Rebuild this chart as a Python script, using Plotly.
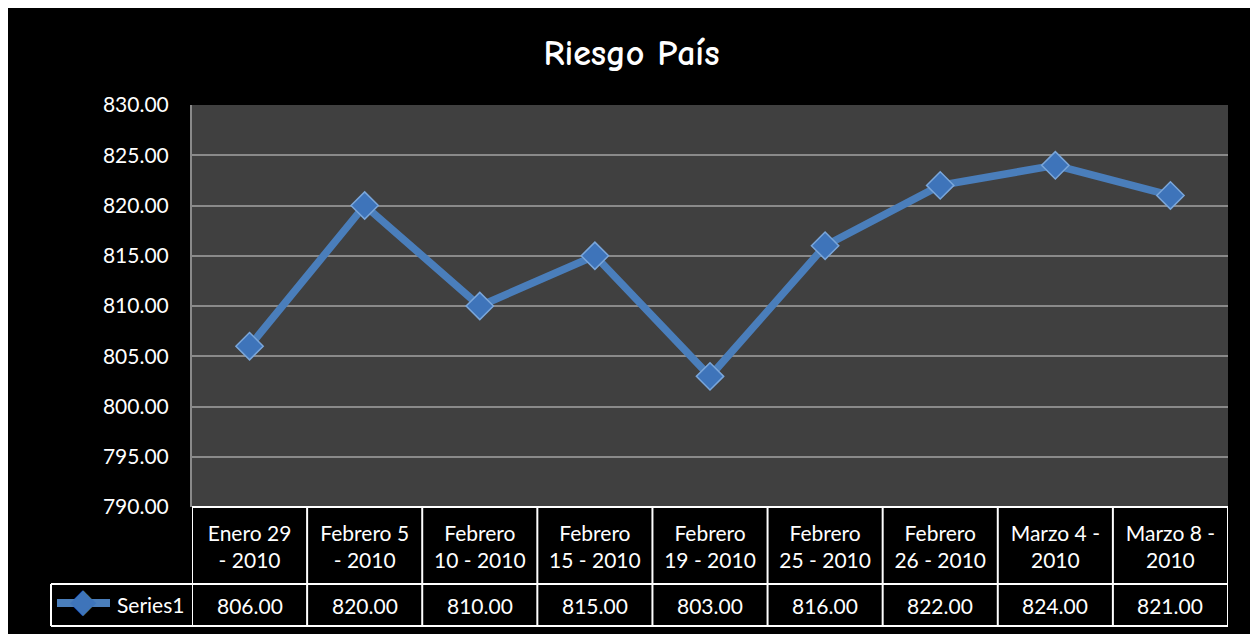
import plotly.graph_objects as go

categories = ["Enero 29<br>- 2010", "Febrero 5<br>- 2010", "Febrero<br>10 - 2010", "Febrero<br>15 - 2010",
              "Febrero<br>19 - 2010", "Febrero<br>25 - 2010", "Febrero<br>26 - 2010", "Marzo 4 -<br>2010",
              "Marzo 8 -<br>2010"]
values = [806, 820, 810, 815, 803, 816, 822, 824, 821]
series_name = "Series1"
title_text = "Riesgo País"

W, H = 1250, 626
L, R, T, B = 184, 1220, 97, 499
pw, ph = R - L, B - T
BLUE = "#4A7EBB"

def px_x(p):
    return (p - L) / pw

def px_y(p):
    return (B - p) / ph

fig = go.Figure()
fig.add_trace(go.Scatter(
    x=list(range(len(categories))), y=values, mode="lines+markers", name=series_name,
    line=dict(color=BLUE, width=7.5),
    marker=dict(symbol="diamond", size=21, color="#3E74BA", line=dict(color="#7AA6DA", width=1.5)),
    showlegend=False,
))

shapes = []
tl = dict(color="white", width=2)
# table horizontal lines
shapes.append(dict(type="line", xref="paper", yref="paper", x0=0, x1=1, y0=0, y1=0, line=tl, layer="above"))
for py in (576, 618):
    shapes.append(dict(type="line", xref="paper", yref="paper", x0=px_x(43), x1=1, y0=px_y(py), y1=px_y(py),
                       line=tl, layer="above"))
shapes.append(dict(type="line", xref="paper", yref="paper", x0=px_x(43), x1=px_x(43), y0=px_y(576), y1=px_y(618),
                   line=tl, layer="above"))
for i in range(len(categories) + 1):
    shapes.append(dict(type="line", xref="x", yref="paper", x0=i - 0.5, x1=i - 0.5, y0=0, y1=px_y(618),
                       line=tl, layer="above"))
# legend key line
shapes.append(dict(type="line", xref="paper", yref="paper", x0=px_x(49), x1=px_x(102), y0=px_y(595), y1=px_y(595),
                   line=dict(color=BLUE, width=8), layer="above"))

annotations = []
for i, v in enumerate(values):
    annotations.append(dict(x=i, y=px_y(597), xref="x", yref="paper", text=f"{v:.2f}", showarrow=False,
                            font=dict(color="white", size=21, family="Lato"), xanchor="center", yanchor="middle"))
annotations.append(dict(x=px_x(75), y=px_y(592), xref="paper", yref="paper", text="◆", showarrow=False,
                        font=dict(color="#3E74BA", size=34, family="DejaVu Sans"), xanchor="center", yanchor="middle"))
annotations.append(dict(x=px_x(178), y=px_y(596), xref="paper", yref="paper", text=series_name, showarrow=False,
                        font=dict(color="white", size=21, family="Lato"), xanchor="right", yanchor="middle"))

fig.update_layout(
    width=W, height=H,
    margin=dict(l=L, r=W - R, t=T, b=H - B),
    paper_bgcolor="black",
    plot_bgcolor="#404040",
    title=dict(text="<b>" + title_text + "</b>", x=623.5 / W, xanchor="center", y=1 - 44 / H,
               yanchor="middle", yref="container",
               font=dict(family="Comic Sans MS, Comic Neue, Lato", size=36, color="white")),
    xaxis=dict(range=[-0.5, len(categories) - 0.5], tickmode="array", tickvals=list(range(len(categories))),
               ticktext=categories, showgrid=False, zeroline=False, showline=False, ticks="",
               tickfont=dict(color="white", size=21, family="Lato"), ticklabelstandoff=12),
    yaxis=dict(range=[790, 830], dtick=5, tickformat=".2f", showgrid=True, gridcolor="#8A8A8A", gridwidth=2,
               zeroline=False, showline=True, linecolor="#8A8A8A", linewidth=2, ticks="",
               tickfont=dict(color="white", size=21, family="Lato"), ticklabelstandoff=17),
    shapes=shapes,
    annotations=annotations,
    showlegend=False,
)

fig.write_html("out.html")
